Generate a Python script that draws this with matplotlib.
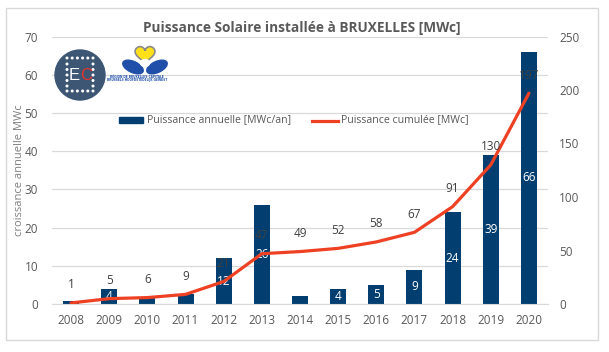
import matplotlib
matplotlib.use("Agg")
import matplotlib.pyplot as plt
import numpy as np
from matplotlib.patches import Rectangle, Circle, Ellipse, Polygon
from matplotlib.lines import Line2D

years = ["2008", "2009", "2010", "2011", "2012", "2013", "2014",
         "2015", "2016", "2017", "2018", "2019", "2020"]
annual = [0.7, 4, 1.6, 2.6, 12, 26, 2, 4, 5, 9, 24, 39, 66]
annual_labels = ["", "4", "", "", "12", "26", "", "4", "5", "9", "24", "39", "66"]
cumul = [1, 5, 6, 9, 21, 47, 49, 52, 58, 67, 91, 130, 197]

title = "Puissance Solaire installée à BRUXELLES [MWc]"
ylabel = "croissance annuelle MWc"
leg_bar = "Puissance annuelle [MWc/an]"
leg_line = "Puissance cumulée [MWc]"

BAR = "#023F70"
LINE = "#EE4124"
TXT = "#595959"
GRID = "#D9D9D9"
FONT = "Open Sans"

W, H = 609, 352
fig = plt.figure(figsize=(W / 100, H / 100), dpi=100)
fig.patch.set_facecolor("white")

L, R, T, B = 52, 548, 36.5, 304
ax = fig.add_axes([L / W, 1 - B / H, (R - L) / W, (B - T) / H])
x = np.arange(len(years))
bars = ax.bar(x, annual, width=0.42, color=BAR, zorder=2)
ax.set_xlim(-0.5, len(years) - 0.5)
ax.set_ylim(0, 70)
ax.set_yticks(range(0, 71, 10))
ax.set_xticks(x)
ax.set_xticklabels(years)
ax.grid(axis="y", color=GRID, lw=0.9, zorder=0)
ax.set_axisbelow(True)
for s in ["top", "left", "right"]:
    ax.spines[s].set_visible(False)
ax.spines["bottom"].set_color(GRID)
ax.tick_params(length=0, colors=TXT, labelsize=8.5, pad=7)
ax.tick_params(axis="y", pad=10)
for lab in ax.get_xticklabels() + ax.get_yticklabels():
    lab.set_fontfamily(FONT)

for xi, v, lab in zip(x, annual, annual_labels):
    if lab:
        ax.text(xi, v / 2, lab, ha="center", va="center", color="white",
                fontsize=8.5, family=FONT, zorder=5)

ax2 = ax.twinx()
ax2.set_ylim(0, 250)
ax2.set_yticks(range(0, 251, 50))
for s in ["top", "left", "right", "bottom"]:
    ax2.spines[s].set_visible(False)
ax2.tick_params(length=0, colors=TXT, labelsize=8.5, pad=8)
for lab in ax2.get_yticklabels():
    lab.set_fontfamily(FONT)
ax2.plot(x, cumul, color=LINE, lw=2.3, zorder=3, solid_capstyle="round")
for xi, v in zip(x, cumul):
    ax2.annotate(str(v), (xi, v), xytext=(0, 13), textcoords="offset points",
                 ha="center", va="center", color="#404040", fontsize=8.5,
                 family=FONT)

# overlay in pixel coordinates
ov = fig.add_axes([0, 0, 1, 1], zorder=10)
ov.set_xlim(0, W)
ov.set_ylim(H, 0)
ov.axis("off")
ov.patch.set_alpha(0)

ov.text(20, 170, ylabel, rotation=90, ha="center", va="center", color="#7F7F7F",
        fontsize=8, family=FONT)

ov.add_patch(Rectangle((6, 8), 592, 332, fill=False, ec=GRID, lw=1))
ov.text(302, 28, title, ha="center", va="center", fontsize=9.8,
        fontweight="bold", color=TXT, family=FONT)

# legend
ov.add_patch(Rectangle((119, 117), 24, 6, color=BAR))
ov.text(147, 120, leg_bar, ha="left", va="center", fontsize=7.6, color=TXT, family=FONT)
ov.add_line(Line2D([312, 338], [121, 121], color=LINE, lw=2.3))
ov.text(341, 120, leg_line, ha="left", va="center", fontsize=7.6, color=TXT, family=FONT)

# EC logo
cx, cy, r = 80, 75, 25
ov.add_patch(Circle((cx, cy), r, color="#3D5674"))
for t in np.linspace(-13, 13, 6):
    ov.add_patch(Circle((cx + t, cy - 17), 0.8, color="white"))
    ov.add_patch(Circle((cx + t, cy + 16), 0.8, color="white"))
for t in np.linspace(-11, 11, 5):
    ov.add_patch(Circle((cx - 13, cy + t), 0.8, color="white"))
    ov.add_patch(Circle((cx + 13, cy + t), 0.8, color="white"))
ov.text(cx - 0.5, cy + 0.5, "E", ha="right", va="center", color="white",
        fontsize=12, family="Liberation Sans")
ov.text(cx + 0.5, cy + 0.5, "C", ha="left", va="center", color="#E8322A",
        fontsize=12, family="Liberation Sans")

# Brussels logo
hx, hy = 145, 54
tt = np.linspace(0, 2 * np.pi, 100)
hs = 0.62
hxs = hx + hs * 16 * np.sin(tt) ** 3
hys = hy - hs * (13 * np.cos(tt) - 5 * np.cos(2 * tt) - 2 * np.cos(3 * tt) - np.cos(4 * tt))
ov.add_patch(Polygon(np.column_stack([hxs, hys]), fc="#FFE01B", ec="#8A8A8A", lw=1.2))
ov.add_patch(Ellipse((133, 67), 22, 11, angle=25, color="#1F4FA8"))
ov.add_patch(Ellipse((157, 67), 22, 11, angle=-25, color="#1F4FA8"))
ov.add_patch(Ellipse((145, 63), 9, 7, color="white"))
ov.text(137, 77, "RÉGION DE BRUXELLES-CAPITALE", ha="center", va="center",
        fontsize=2.1, color="#1F4FA8", family="DejaVu Sans", fontweight="bold")
ov.text(137, 80.5, "BRUSSELS HOOFDSTEDELIJK GEWEST", ha="center", va="center",
        fontsize=2.1, color="#1F4FA8", family="DejaVu Sans", fontweight="bold")

fig.savefig("out.png", dpi=100)
